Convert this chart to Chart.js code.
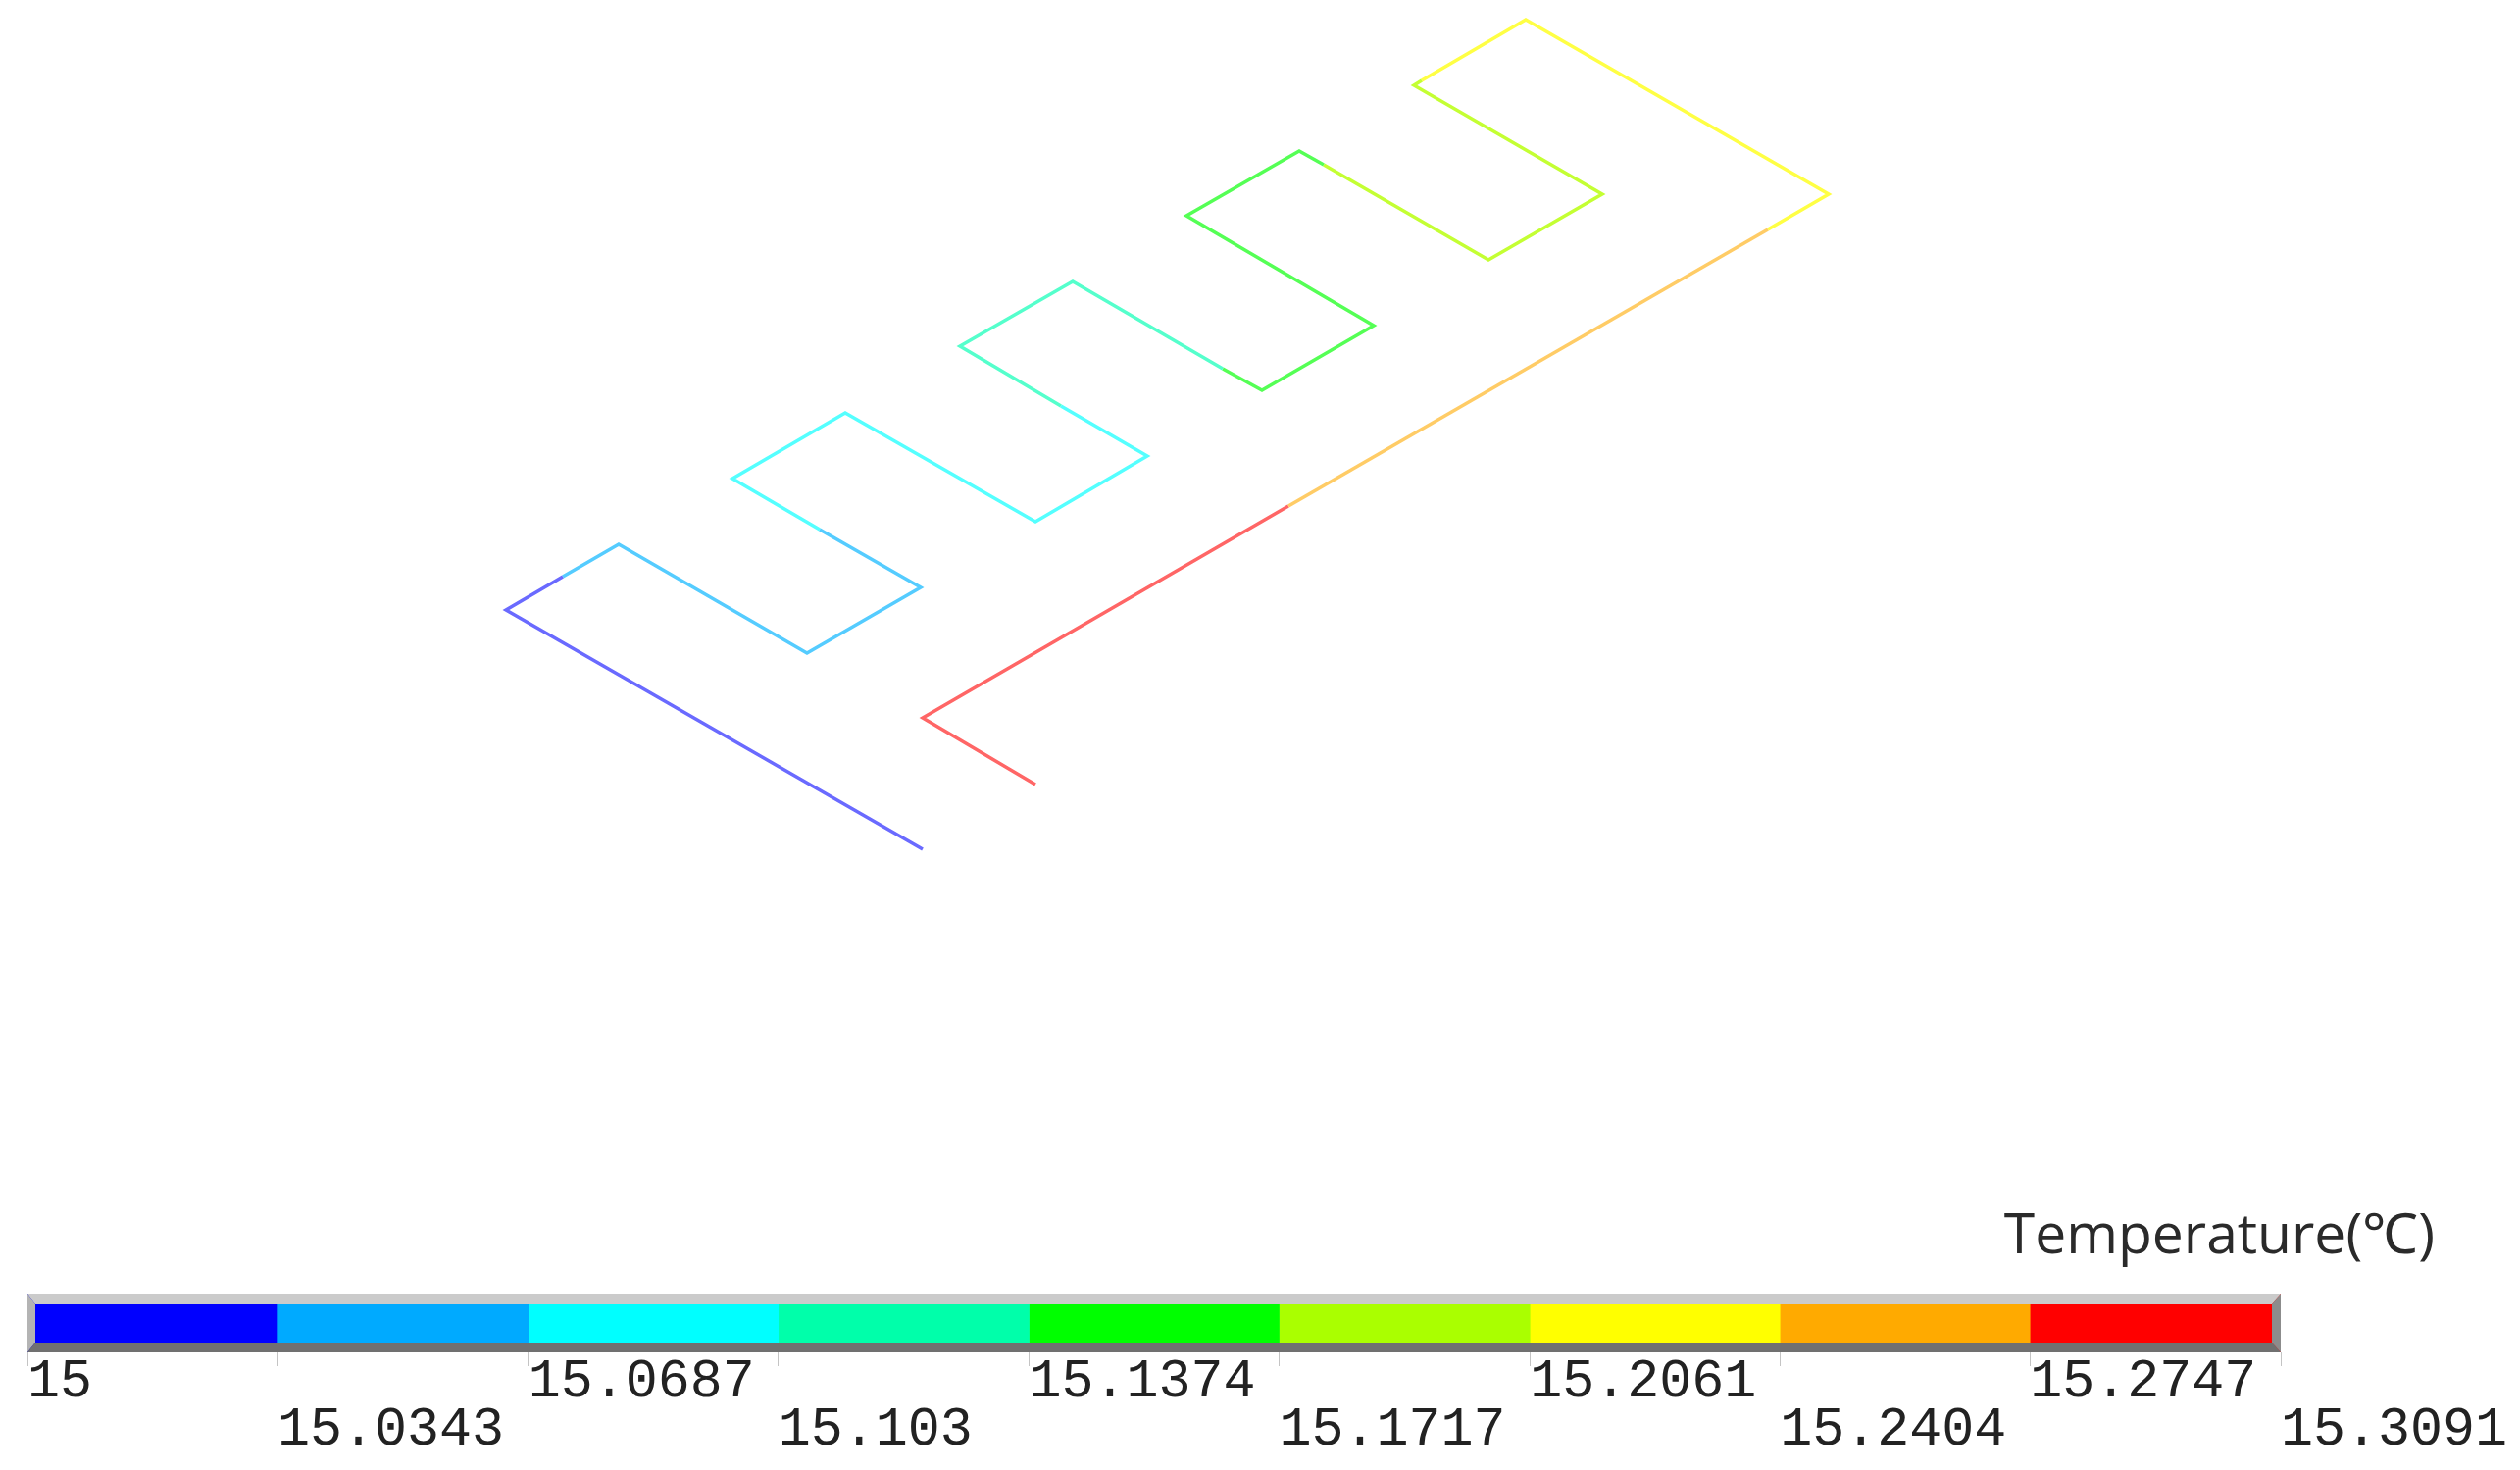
<!DOCTYPE html>
<html><head><meta charset="utf-8">
<style>html,body{margin:0;padding:0;background:#fff;width:2570px;height:1499px;overflow:hidden}
#wrapA{position:absolute;left:0;top:0;width:2570px;height:1300px}
#wrapB{position:absolute;left:0;top:1300px;width:2570px;height:199px}
canvas{display:block}</style>
<script src="https://cdn.jsdelivr.net/npm/chart.js@4"></script>
</head><body>
<div id="wrapA"><canvas id="pipe"></canvas></div>
<div id="wrapB"><canvas id="bar"></canvas></div>
<script>
// Pipe path, split where the temperature band changes
const seg15_0 = [[941,866],[516,622],[574,588]];
const seg15_1 = [[574,588],[631,555],[823,666],[939,599],[836,540]];
const seg15_2 = [[836,540],[747,488],[862,421],[1056,532],[1170,465],[1082,414]];
const seg15_3 = [[1082,414],[979,353],[1094,287],[1247,376]];
const seg15_4 = [[1247,376],[1287,398],[1401,332],[1210,220],[1325,154],[1350,168]];
const seg15_5 = [[1350,168],[1518,265],[1634,198],[1442,87],[1450,82]];
const seg15_6 = [[1450,82],[1556,20],[1865,198],[1803,234]];
const seg15_7 = [[1803,234],[1314,516]];
const seg15_8 = [[1314,516],[941,732],[1056,800]];
const pipeSegments = [seg15_0,seg15_1,seg15_2,seg15_3,seg15_4,seg15_5,seg15_6,seg15_7,seg15_8];
const pipeColors = ['#6a6aff','#55ccff','#55ffff','#55ffcc','#55ff55','#c4ff33','#ffff44','#ffcc66','#ff6666'];

// Colour bar
const bandEdges = [15,15.0343,15.0687,15.103,15.1374,15.1717,15.2061,15.2404,15.2747,15.3091];
const tickLabels = ['15','15.0343','15.0687','15.103','15.1374','15.1717','15.2061','15.2404','15.2747','15.3091'];
const bandColors = ['#0000ff','#00aaff','#00ffff','#00ffaa','#00ff00','#aaff00','#ffff00','#ffaa00','#ff0000'];
const legendTitle = 'Temperature(℃)';

Chart.defaults.animation = false;
Chart.defaults.responsive = false;
function size(c,w,h){c.width=w;c.height=h;c.style.width=w+'px';c.style.height=h+'px';}
const pc=document.getElementById('pipe'), bc=document.getElementById('bar');
size(pc,2570,1300); size(bc,2570,199);

new Chart(pc,{
  type:'scatter',
  data:{datasets:pipeSegments.map((s,i)=>({
    data:s.map(p=>({x:p[0],y:p[1]})),
    showLine:true,borderColor:pipeColors[i],borderWidth:3.5,pointRadius:0,
    borderJoinStyle:'miter',borderCapStyle:'butt',tension:0
  }))},
  options:{
    responsive:false,maintainAspectRatio:false,
    layout:{padding:{left:0,right:87,top:0,bottom:0}},
    plugins:{legend:{display:false},tooltip:{enabled:false},
      title:{display:true,text:legendTitle,position:'bottom',align:'end',color:'#2a2a2a',
        font:{family:'"Open Sans"',size:57,weight:'normal'},padding:{top:0,bottom:4}}},
    scales:{
      x:{type:'linear',min:0,max:2483,display:false},
      y:{type:'linear',min:0,max:1227.6,reverse:true,display:false}
    }
  }
});

const bevel={id:'bevel',afterDatasetsDraw(ch){
  const a=ch.chartArea,c=ch.ctx,l=a.left,r=a.right,t=a.top,b=a.bottom,ti=10,li=8,bi=10,ri=9;
  c.save();
  c.fillStyle='#cbcbcb';c.beginPath();c.moveTo(l,t);c.lineTo(r,t);c.lineTo(r-ri,t+ti);c.lineTo(l+li,t+ti);c.closePath();c.fill();
  c.fillStyle='#b4b4b4';c.beginPath();c.moveTo(l,t);c.lineTo(l+li,t+ti);c.lineTo(l+li,b-bi);c.lineTo(l,b);c.closePath();c.fill();
  c.fillStyle='#707070';c.beginPath();c.moveTo(l,b);c.lineTo(l+li,b-bi);c.lineTo(r-ri,b-bi);c.lineTo(r,b);c.closePath();c.fill();
  c.fillStyle='#8c8c8c';c.beginPath();c.moveTo(r,t);c.lineTo(r-ri,t+ti);c.lineTo(r-ri,b-bi);c.lineTo(r,b);c.closePath();c.fill();
  c.restore();
}};

new Chart(bc,{
  type:'bar',
  data:{labels:['T'],datasets:bandColors.map((col,i)=>({
    data:[[bandEdges[i],bandEdges[i+1]]],backgroundColor:col,borderWidth:0,
    grouped:false,barPercentage:1,categoryPercentage:1
  }))},
  options:{
    indexAxis:'y',responsive:false,maintainAspectRatio:false,
    layout:{padding:{left:28,right:244,top:20,bottom:0}},
    plugins:{legend:{display:false},tooltip:{enabled:false}},
    scales:{
      y:{display:false},
      x:{type:'linear',min:15,max:15.3091,position:'bottom',
        afterBuildTicks(ax){ax.ticks=bandEdges.map(v=>({value:v}));},
        afterFit(ax){ax.height=120;},
        grid:{display:true,drawOnChartArea:false,drawTicks:true,tickLength:14,color:'#c4c4c4',lineWidth:1},
        border:{display:false},
        ticks:{autoSkip:false,maxRotation:0,minRotation:0,align:'start',padding:-8,color:'#222',
          font:{family:'"Liberation Mono"',size:55,lineHeight:0.89},
          callback(v,i){const t=tickLabels[i];return i%2?['',t]:[t,''];}}
      }
    }
  },
  plugins:[bevel]
});
</script></body></html>
